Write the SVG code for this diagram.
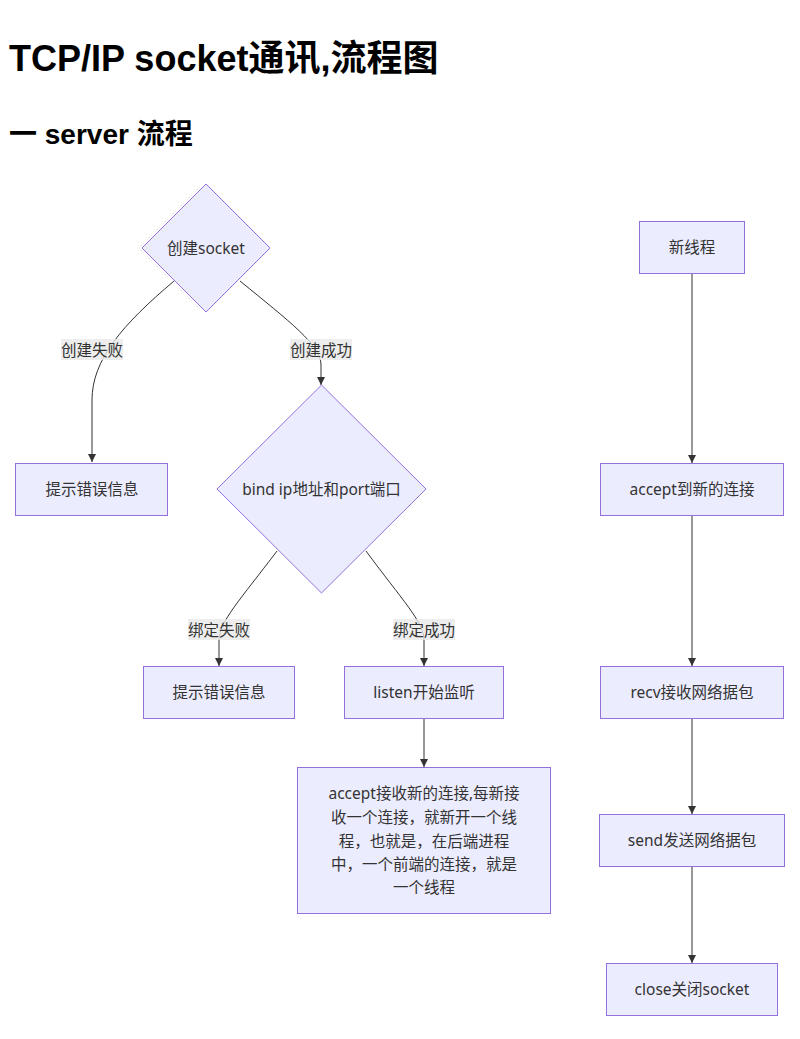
<svg xmlns="http://www.w3.org/2000/svg" width="800" height="1039" viewBox="0 0 800 1039">
<defs>
<marker id="arrow" viewBox="0 0 10 10" refX="10" refY="5" markerWidth="8" markerHeight="8" markerUnits="userSpaceOnUse" orient="auto">
<path d="M0,0 L10,5 L0,10 z" fill="#333"/>
</marker>
</defs>
<style>
.h{font-family:"Liberation Sans","Noto Sans CJK SC",sans-serif;font-weight:bold;fill:#000}
.node rect,.node polygon{fill:#ECECFF;stroke:#9370DB;stroke-width:1}
.t{font-family:"Noto Sans","Noto Sans CJK SC",sans-serif;font-size:15.5px;fill:#333;text-anchor:middle;dominant-baseline:central}
.edge{fill:none;stroke:#333;stroke-width:1;marker-end:url(#arrow)}
.lbl rect{fill:#e8e8e8;fill-opacity:0.8}
</style>
<rect width="800" height="1039" fill="#fff"/>
<text class="h" x="9" y="71" font-size="36">TCP/IP socket通讯,流程图</text>
<text class="h" x="9" y="144" font-size="28">一 server 流程</text>

<g id="connectors">
<path class="edge" d="M174,281 C122,325 92,360 92,400 L92,462"/>
<path class="edge" d="M240,281 C290,322 321,345 321,365 L321,385"/>
<path class="edge" d="M277,551 C240,600 219,622 219,640 L219,666"/>
<path class="edge" d="M366,551 C402,600 424,622 424,640 L424,666"/>
<path class="edge" d="M424,718 L424,767"/>
<path class="edge" d="M692,274 L692,463"/>
<path class="edge" d="M692,516 L692,666"/>
<path class="edge" d="M692,718 L692,814"/>
<path class="edge" d="M692,867 L692,963"/>
</g>

<g id="edge-labels">
<g class="lbl"><rect x="61" y="339" width="62" height="21"/><text class="t" x="92" y="349.5">创建失败</text></g>
<g class="lbl"><rect x="290" y="339" width="62" height="21"/><text class="t" x="321" y="349.5">创建成功</text></g>
<g class="lbl"><rect x="188" y="619" width="62" height="21"/><text class="t" x="219" y="629.5">绑定失败</text></g>
<g class="lbl"><rect x="393" y="619" width="62" height="21"/><text class="t" x="424" y="629.5">绑定成功</text></g>
</g>

<g id="create" class="node"><polygon points="206,184 270,248 206,312 142,248"/><text class="t" x="206" y="248">创建socket</text></g>
<g id="err1" class="node"><rect x="15.5" y="463.5" width="152" height="52"/><text class="t" x="92" y="489">提示错误信息</text></g>
<g id="bind" class="node"><polygon points="321.5,385 426,489 321.5,593 217,489"/><text class="t" x="321.5" y="489">bind ip地址和port端口</text></g>
<g id="err2" class="node"><rect x="143.5" y="666.5" width="151" height="52"/><text class="t" x="219" y="692">提示错误信息</text></g>
<g id="listen" class="node"><rect x="344.5" y="666.5" width="159" height="52"/><text class="t" x="424" y="692">listen开始监听</text></g>
<g id="accept" class="node"><rect x="297.5" y="767.5" width="253" height="146"/>
<text class="t" x="424" y="793">accept接收新的连接,每新接</text>
<text class="t" x="424" y="817">收一个连接，就新开一个线</text>
<text class="t" x="424" y="840.5">程，也就是，在后端进程</text>
<text class="t" x="424" y="864">中，一个前端的连接，就是</text>
<text class="t" x="424" y="887">一个线程</text>
</g>
<g id="newthread" class="node"><rect x="639.5" y="221.5" width="105" height="52"/><text class="t" x="692" y="247">新线程</text></g>
<g id="accepted" class="node"><rect x="600.5" y="463.5" width="183" height="52"/><text class="t" x="692" y="489">accept到新的连接</text></g>
<g id="recv" class="node"><rect x="600.5" y="666.5" width="183" height="52"/><text class="t" x="692" y="692">recv接收网络据包</text></g>
<g id="send" class="node"><rect x="599.5" y="814.5" width="185" height="52"/><text class="t" x="692" y="840">send发送网络据包</text></g>
<g id="close" class="node"><rect x="606.5" y="963.5" width="171" height="52"/><text class="t" x="692" y="989">close关闭socket</text></g>
</svg>
